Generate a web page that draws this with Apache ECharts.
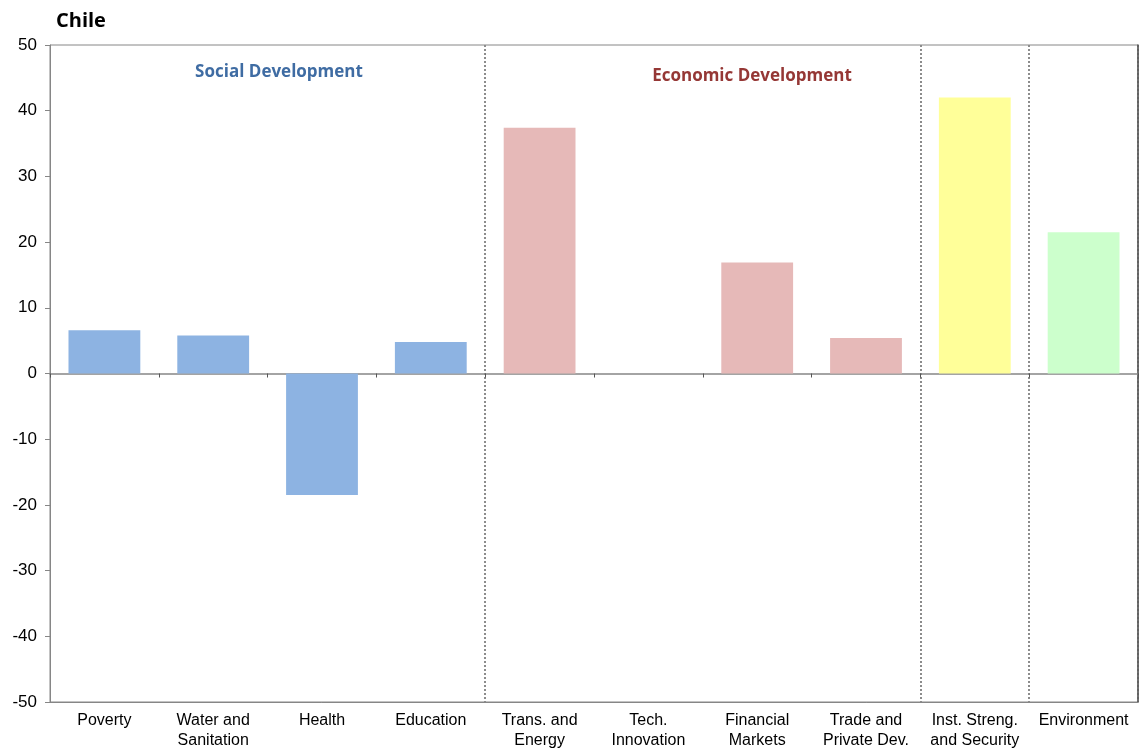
<!DOCTYPE html>
<html>
<head>
<meta charset="utf-8">
<script src="https://cdn.jsdelivr.net/npm/echarts@6/dist/echarts.min.js"></script>
<style>html,body{margin:0;padding:0;background:#fff}#c{width:1139px;height:748px}</style>
</head>
<body>
<div id="c"></div>
<script>
const categories = ['Poverty', 'Water and\nSanitation', 'Health', 'Education', 'Trans. and\nEnergy', 'Tech.\nInnovation', 'Financial\nMarkets', 'Trade and\nPrivate Dev.', 'Inst. Streng.\nand Security', 'Environment'];
const values = [6.6, 5.8, -18.5, 4.8, 37.4, 0, 16.9, 5.4, 42.0, 21.5];
const groupColors = ['#8DB3E2', '#8DB3E2', '#8DB3E2', '#8DB3E2', '#E6B9B8', '#E6B9B8', '#E6B9B8', '#E6B9B8', '#FFFF99', '#CCFFCC'];
const dividerIndices = [4, 8, 9];
const yTicks = { min: -50, max: 50, interval: 10 };

const chart = echarts.init(document.getElementById('c'));
chart.setOption({
  animation: false,
  title: [
    { text: 'Chile', left: 51, top: 6, textStyle: { fontFamily: 'Open Sans', fontWeight: 'bold', fontSize: 20, color: '#000' } },
    { text: 'Social Development', left: 274, top: 59, textAlign: 'center', textStyle: { fontFamily: 'Open Sans', fontWeight: 'bold', fontSize: 17, color: '#3F6CA3' } },
    { text: 'Economic Development', left: 747, top: 63, textAlign: 'center', textStyle: { fontFamily: 'Open Sans', fontWeight: 'bold', fontSize: 17, color: '#953735' } }
  ],
  grid: { left: 50, right: 1, top: 45, bottom: 46, outerBoundsMode: 'none', show: true, borderColor: '#868686', borderWidth: 1, backgroundColor: 'transparent' },
  xAxis: [
    {
      type: 'category', data: categories, position: 'bottom',
      axisLine: { onZero: false, lineStyle: { color: '#868686' } },
      axisTick: { show: false },
      axisLabel: { interval: 0, color: '#000', fontFamily: 'Liberation Sans', fontSize: 16, lineHeight: 20, margin: 9 },
      splitLine: { show: true, interval: function (i) { return dividerIndices.indexOf(i) >= 0; }, lineStyle: { color: '#8c8c8c', width: 2, type: [2, 2] } }
    },
    {
      type: 'category', data: categories, position: 'bottom',
      axisLine: { onZero: true, lineStyle: { color: '#868686', width: 1.5 } },
      axisTick: { show: true, inside: false, length: 4, interval: 0, lineStyle: { color: '#555' } },
      axisLabel: { show: false },
      splitLine: { show: false }
    }
  ],
  yAxis: [
    {
      type: 'value', min: yTicks.min, max: yTicks.max, interval: yTicks.interval,
      axisLine: { show: true, lineStyle: { color: '#868686' } },
      axisTick: { show: true, length: 5, lineStyle: { color: '#868686' } },
      axisLabel: { color: '#000', fontFamily: 'Liberation Sans', fontSize: 17, margin: 13 },
      splitLine: { show: false }
    },
    {
      type: 'value', min: yTicks.min, max: yTicks.max, interval: yTicks.interval, position: 'right',
      axisLine: { show: true, onZero: false, lineStyle: { color: '#555', width: 1.5 } },
      axisTick: { show: false }, axisLabel: { show: false }, splitLine: { show: false }
    }
  ],
  series: [{
    type: 'bar', xAxisIndex: 0, yAxisIndex: 0, barCategoryGap: '34%',
    data: values.map((v, i) => ({ value: v, itemStyle: { color: groupColors[i] } }))
  }]
});
</script>
</body>
</html>
